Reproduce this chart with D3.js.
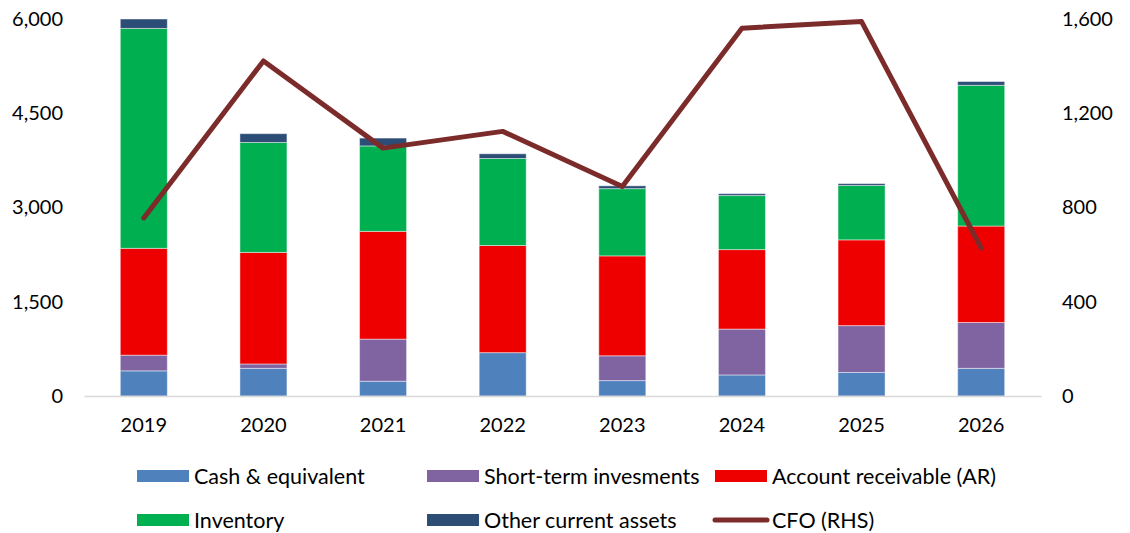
<!DOCTYPE html>
<html lang="en">
<head>
  <meta charset="utf-8">
  <title>Current assets and CFO</title>
  <script src="https://d3js.org/d3.v7.min.js"></script>
  <style>
    body { margin: 0; background: #fff; }
    text { font-family: Lato, "Open Sans", sans-serif; fill: #000; }
  </style>
</head>
<body>
<div id="chart"></div>

<script>

// data
var years = ["2019", "2020", "2021", "2022", "2023", "2024", "2025", "2026"];
var cash      = [400, 440, 235, 690, 245, 335, 375, 440];
var shortTerm = [250, 70, 670, 0, 395, 730, 745, 730];
var ar        = [1700, 1775, 1715, 1705, 1590, 1265, 1365, 1535];
var inventory = [3500, 1750, 1360, 1385, 1070, 860, 865, 2240];
var other     = [150, 140, 125, 75, 45, 30, 30, 60];
var cfo       = [755, 1422, 1052, 1123, 889, 1561, 1589, 628];

var leftTicks  = [0, 1500, 3000, 4500, 6000];
var rightTicks = [0, 400, 800, 1200, 1600];

var seriesNames  = ["Cash & equivalent", "Short-term invesments", "Account receivable (AR)", "Inventory", "Other current assets"];
var seriesColors = ["#4f81bd", "#8064a2", "#ee0000", "#00b050", "#2c4d75"];
var lineColor = "#7b2c2a";

// set the dimensions and margins of the graph
var W = 1130, H = 533;
var margin = {top: 19, right: 89, bottom: 137, left: 84},
    width = W - margin.left - margin.right,
    height = H - margin.top - margin.bottom;

var svg = d3.select("#chart")
  .append("svg")
    .attr("width", W)
    .attr("height", H);

var g = svg.append("g")
    .attr("transform", "translate(" + margin.left + "," + margin.top + ")");

// build rows for the stack
var rows = years.map(function(y, i) {
  return {year: y, s0: cash[i], s1: shortTerm[i], s2: ar[i], s3: inventory[i], s4: other[i]};
});
var stack = d3.stack().keys(["s0", "s1", "s2", "s3", "s4"]);
var layers = stack(rows);

// scales
var x = d3.scaleBand()
    .domain(years)
    .range([0, width])
    .paddingInner(0.607)
    .paddingOuter(0.3035);

var y = d3.scaleLinear().domain([0, 6000]).range([height, 0]);
var y2 = d3.scaleLinear().domain([0, 1600]).range([height, 0]);

// left axis labels
var leftAxis = g.append("g")
    .call(d3.axisLeft(y).tickValues(leftTicks).tickSize(0).tickPadding(21).tickFormat(d3.format(",")));
leftAxis.select(".domain").remove();
leftAxis.selectAll("text").style("font-size", "20px").style("font-family", "Lato, sans-serif");

// right axis labels
var rightAxis = g.append("g")
    .attr("transform", "translate(" + width + ",0)")
    .call(d3.axisRight(y2).tickValues(rightTicks).tickSize(0).tickPadding(21).tickFormat(d3.format(",")));
rightAxis.select(".domain").remove();
rightAxis.selectAll("text").style("font-size", "20px").style("font-family", "Lato, sans-serif");

// stacked bars
g.selectAll("g.layer")
    .data(layers)
    .enter()
    .append("g")
      .attr("class", "layer")
      .style("fill", function(d, i) { return seriesColors[i]; })
    .selectAll("rect")
    .data(function(d) { return d; })
    .enter()
    .append("rect")
      .attr("x", function(d) { return x(d.data.year); })
      .attr("y", function(d) { return y(d[1]); })
      .attr("width", x.bandwidth())
      .attr("height", function(d) { return y(d[0]) - y(d[1]); })
      .style("stroke", "rgba(255,255,255,0.45)")
      .style("stroke-width", 1);

// bottom axis line and year labels
var xAxis = g.append("g")
    .attr("transform", "translate(0," + height + ")")
    .call(d3.axisBottom(x).tickSize(0).tickPadding(22));
xAxis.select(".domain").attr("stroke", "#d9d9d9").attr("stroke-width", 1.5);
xAxis.selectAll("text").style("font-size", "20px").style("font-family", "Lato, sans-serif");

// CFO line on the right axis
var line = d3.line()
    .x(function(d, i) { return x(years[i]) + x.bandwidth() / 2; })
    .y(function(d) { return y2(d); });

g.append("path")
    .datum(cfo)
    .attr("d", line)
    .attr("fill", "none")
    .attr("stroke", lineColor)
    .attr("stroke-width", 5)
    .attr("stroke-linejoin", "round")
    .attr("stroke-linecap", "round");

// legend
var legendItems = [
  {name: seriesNames[0], color: seriesColors[0], type: "rect", x: 137, y: 476},
  {name: seriesNames[1], color: seriesColors[1], type: "rect", x: 427, y: 476},
  {name: seriesNames[2], color: seriesColors[2], type: "rect", x: 715, y: 476},
  {name: seriesNames[3], color: seriesColors[3], type: "rect", x: 137, y: 520},
  {name: seriesNames[4], color: seriesColors[4], type: "rect", x: 427, y: 520},
  {name: "CFO (RHS)", color: lineColor, type: "line", x: 715, y: 520}
];

var legend = svg.selectAll("g.legend")
    .data(legendItems)
    .enter()
    .append("g")
      .attr("class", "legend")
      .attr("transform", function(d) { return "translate(" + d.x + "," + d.y + ")"; });

legend.filter(function(d) { return d.type === "rect"; })
    .append("rect")
      .attr("x", 0)
      .attr("y", -6)
      .attr("width", 52)
      .attr("height", 12)
      .style("fill", function(d) { return d.color; });

legend.filter(function(d) { return d.type === "line"; })
    .append("line")
      .attr("x1", 0)
      .attr("x2", 52)
      .attr("y1", 0)
      .attr("y2", 0)
      .attr("stroke", function(d) { return d.color; })
      .attr("stroke-width", 5)
      .attr("stroke-linecap", "round");

legend.append("text")
    .attr("x", 57)
    .attr("y", 0)
    .attr("dy", "0.35em")
    .style("font-size", "21.5px")
    .text(function(d) { return d.name; });

</script>
</body>
</html>
